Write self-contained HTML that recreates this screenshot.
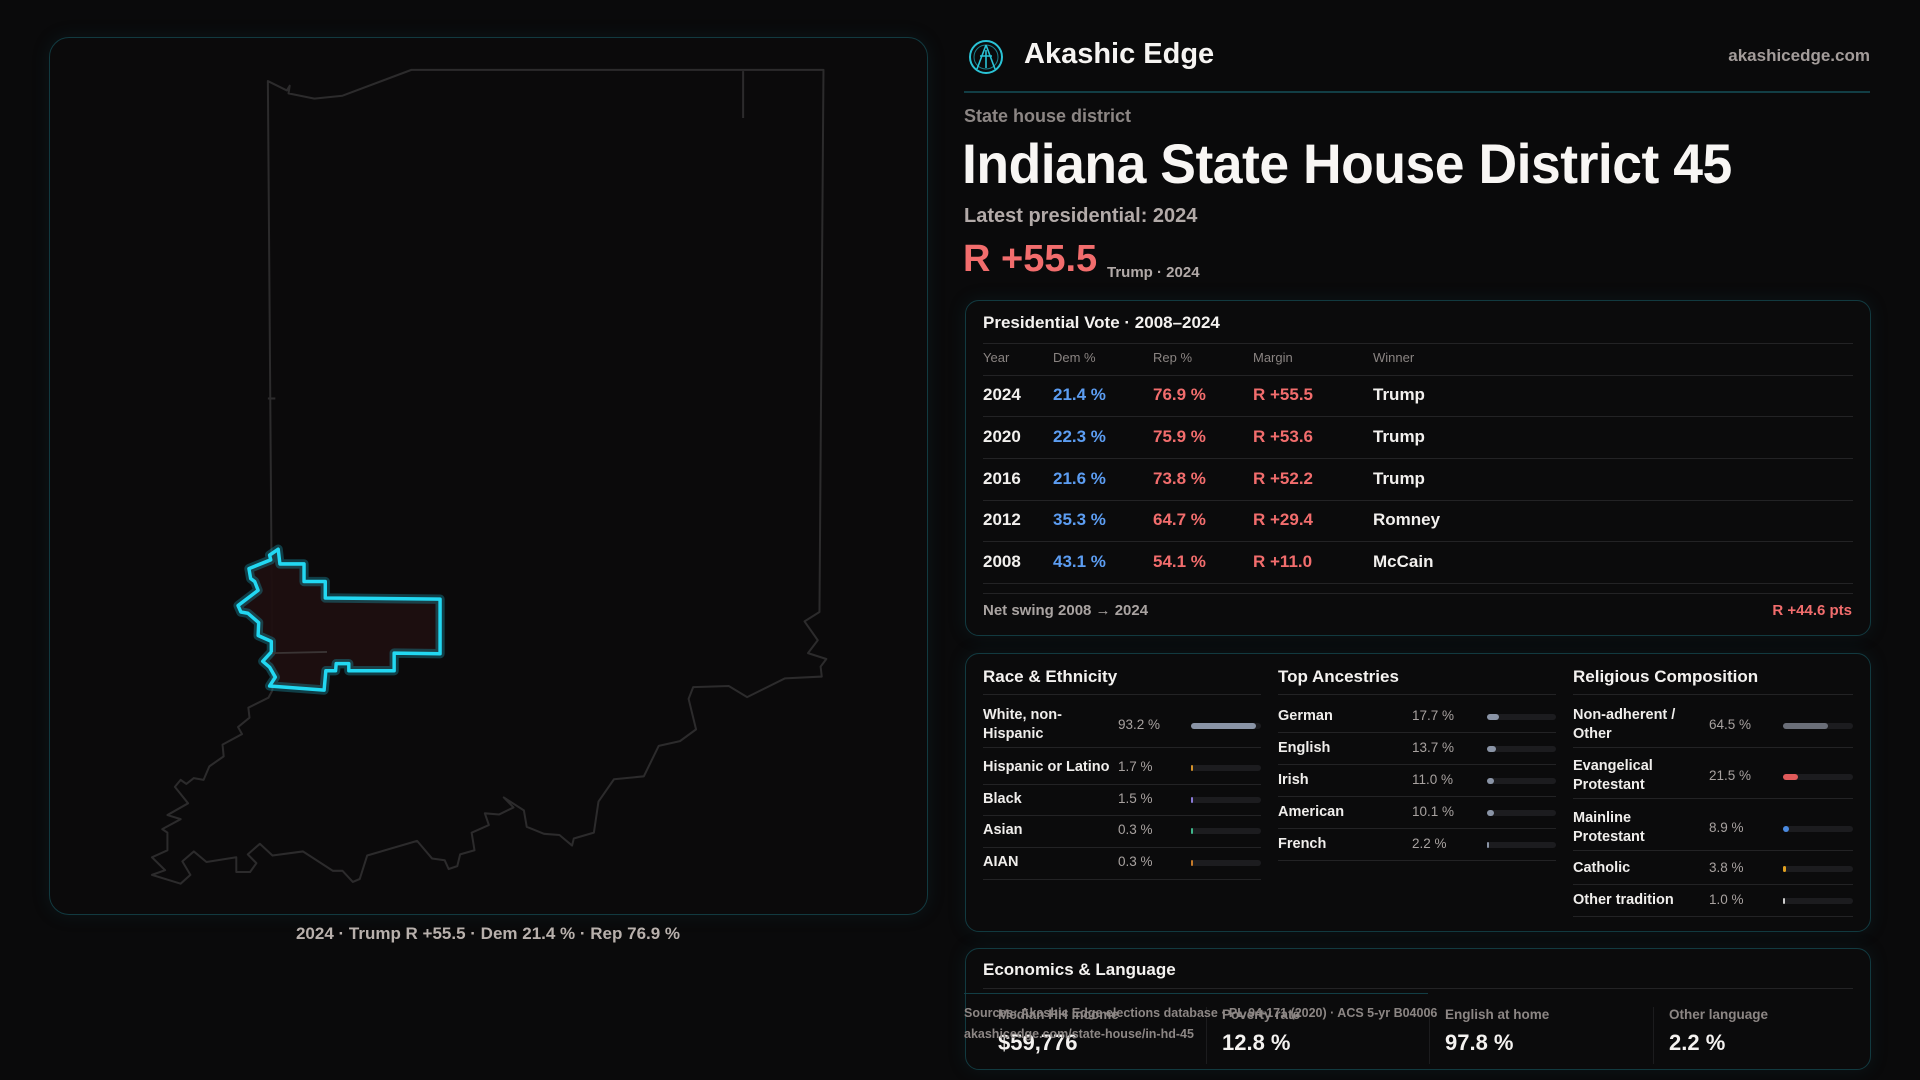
<!DOCTYPE html>
<html><head><meta charset="utf-8"><style>
*{margin:0;padding:0;box-sizing:border-box}
body{width:1920px;height:1080px;background:#0a0a0b;font-family:"Liberation Sans",sans-serif;color:#f2f0ee;position:relative;overflow:hidden}
.a{position:absolute;white-space:nowrap}
.panel{position:absolute;border:1.5px solid #123a40;border-radius:14px;background:#0b0b0c;box-shadow:0 0 18px rgba(20,80,90,0.18)}
.hl{position:absolute;height:1px;background:#232325}
.t{font-size:17px;font-weight:700;color:#f4f2f0}
.hd{font-size:13px;color:#8a8482}
.r{font-size:17px;font-weight:700}
.blue{color:#5c9df2}.red{color:#f26d6d}
.lab{font-size:14.5px;font-weight:700;color:#f0eeec;line-height:19px}
.val{font-size:13.5px;color:#a8a2a0}
.bar{position:absolute;height:6px;border-radius:3px;background:#1c1c1f}
.bar i{position:absolute;left:0;top:0;height:6px;border-radius:3px;display:block}
</style></head><body>

<div class="panel" style="left:49px;top:37px;width:879px;height:878px;background:#0b0a0b;border-radius:20px"></div>
<svg class="a" style="left:40px;top:30px" width="900" height="920" viewBox="0 0 1568 1568" preserveAspectRatio="none">
<g fill="none" stroke="#2c2b2c" stroke-width="3.5" stroke-linejoin="round">
<polyline points="405,1125 397,87 430,103 435,95 433,108 478,117 527,112 647,68 1365,68 1358,992 1332,1008 1355,1040 1338,1062 1370,1072 1360,1085 1362,1102 1298,1105 1232,1137 1200,1118 1138,1120 1130,1140 1143,1192 1115,1212 1078,1220 1052,1272 1000,1277 973,1315 965,1368 930,1378 927,1390 905,1372 878,1370 848,1358 843,1330 808,1308 825,1325 800,1337 775,1335 782,1355 752,1368 757,1398 732,1405 727,1425 712,1430 705,1415 683,1412 657,1382 570,1407 557,1447 545,1452 527,1433 510,1433 458,1400 405,1407 383,1387 362,1405 377,1420 366,1435 342,1435 342,1410 290,1418 268,1400 248,1417 262,1440 245,1455 195,1440 218,1432 195,1410 222,1398 222,1368 213,1362 245,1345 222,1338 258,1318 235,1290 245,1278 255,1285 268,1275 285,1278 295,1255 320,1238 318,1218 352,1200 345,1188 365,1172 363,1155 398,1138 405,1125"/>
<line x1="1225" y1="70" x2="1225" y2="150"/>
<line x1="397" y1="628" x2="410" y2="628"/>
</g>
<polygon points="400,1118 410,1103 400,1086 388,1076 403,1060 403,1042 380,1032 381,1010 362,994 350,992 345,981 380,955 374,940 367,935 364,918 402,903 400,895 415,885 418,910 460,910 460,940 497,940 497,968 697,970 697,1063 617,1062 617,1092 538,1092 538,1080 516,1080 515,1092 498,1092 495,1125" fill="#1e0f10" fill-opacity="0.95" stroke="#1aa0b8" stroke-opacity="0.35" stroke-width="16" stroke-linejoin="round"/>
<polygon points="400,1118 410,1103 400,1086 388,1076 403,1060 403,1042 380,1032 381,1010 362,994 350,992 345,981 380,955 374,940 367,935 364,918 402,903 400,895 415,885 418,910 460,910 460,940 497,940 497,968 697,970 697,1063 617,1062 617,1092 538,1092 538,1080 516,1080 515,1092 498,1092 495,1125" fill="none" stroke="#22d8f2" stroke-width="6" stroke-linejoin="round"/>
<line x1="405" y1="1062" x2="500" y2="1060" stroke="#3a3434" stroke-width="3"/>
</svg>
<div class="a" style="left:0;width:976px;top:924px;text-align:center;font-size:17px;font-weight:700;color:#b8b0ac">2024 · Trump R +55.5 · Dem 21.4 % · Rep 76.9 %</div>

<svg class="a" style="left:967px;top:38px" width="38" height="38" viewBox="0 0 38 38">
<circle cx="19" cy="19" r="16" fill="none" stroke="#2ac3d6" stroke-width="2"/>
<circle cx="19" cy="19" r="12" fill="none" stroke="#1b7f8c" stroke-width="1"/>
<path d="M19 7 L10 31 M19 7 L28 31 M13 18 L25 18 M19 12 L19 30" stroke="#2ac3d6" stroke-width="1.6" fill="none"/>
</svg>
<div class="a" style="left:1024px;top:38px;font-size:29px;font-weight:700;color:#f6f4f2">Akashic Edge</div>
<div class="a" style="right:50px;top:46px;font-size:17px;font-weight:700;color:#a39c9a">akashicedge.com</div>
<div class="a" style="left:964px;top:91px;width:906px;height:1.5px;background:#123e45"></div>
<div class="a" style="left:964px;top:106px;font-size:18px;font-weight:700;color:#8c8684">State house district</div>
<div class="a" style="left:962px;top:131px;font-size:56px;font-weight:700;color:#f8f6f4;transform:scaleX(0.955);transform-origin:left;letter-spacing:-0.5px">Indiana State House District 45</div>
<div class="a" style="left:964px;top:205px;font-size:20px;font-weight:700;color:#b2aaa8">Latest presidential: 2024</div>
<div class="a" style="left:963px;top:238px;font-size:38px;font-weight:700;color:#f26d6d">R +55.5</div>
<div class="a" style="left:1107px;top:264px;font-size:15px;font-weight:700;color:#b2aaa8">Trump · 2024</div>

<div class="panel" style="left:965px;top:300px;width:906px;height:336px"></div>
<div class="a t" style="left:983px;top:313px">Presidential Vote · 2008–2024</div>
<div class="hl" style="left:983px;top:343px;width:870px"></div>
<div class="a hd" style="left:983px;top:350px">Year</div>
<div class="a hd" style="left:1053px;top:350px">Dem %</div>
<div class="a hd" style="left:1153px;top:350px">Rep %</div>
<div class="a hd" style="left:1253px;top:350px">Margin</div>
<div class="a hd" style="left:1373px;top:350px">Winner</div>
<div class="hl" style="left:983px;top:375px;width:870px"></div>

<div class="a r" style="left:983px;top:385px">2024</div><div class="a r blue" style="left:1053px;top:385px">21.4 %</div><div class="a r red" style="left:1153px;top:385px">76.9 %</div><div class="a r red" style="left:1253px;top:385px">R +55.5</div><div class="a r" style="left:1373px;top:385px">Trump</div>
<div class="hl" style="left:983px;top:416px;width:870px"></div>
<div class="a r" style="left:983px;top:427px">2020</div><div class="a r blue" style="left:1053px;top:427px">22.3 %</div><div class="a r red" style="left:1153px;top:427px">75.9 %</div><div class="a r red" style="left:1253px;top:427px">R +53.6</div><div class="a r" style="left:1373px;top:427px">Trump</div>
<div class="hl" style="left:983px;top:458px;width:870px"></div>
<div class="a r" style="left:983px;top:469px">2016</div><div class="a r blue" style="left:1053px;top:469px">21.6 %</div><div class="a r red" style="left:1153px;top:469px">73.8 %</div><div class="a r red" style="left:1253px;top:469px">R +52.2</div><div class="a r" style="left:1373px;top:469px">Trump</div>
<div class="hl" style="left:983px;top:500px;width:870px"></div>
<div class="a r" style="left:983px;top:510px">2012</div><div class="a r blue" style="left:1053px;top:510px">35.3 %</div><div class="a r red" style="left:1153px;top:510px">64.7 %</div><div class="a r red" style="left:1253px;top:510px">R +29.4</div><div class="a r" style="left:1373px;top:510px">Romney</div>
<div class="hl" style="left:983px;top:541px;width:870px"></div>
<div class="a r" style="left:983px;top:552px">2008</div><div class="a r blue" style="left:1053px;top:552px">43.1 %</div><div class="a r red" style="left:1153px;top:552px">54.1 %</div><div class="a r red" style="left:1253px;top:552px">R +11.0</div><div class="a r" style="left:1373px;top:552px">McCain</div>
<div class="hl" style="left:983px;top:583px;width:870px"></div>
<div class="hl" style="left:983px;top:593px;width:870px"></div>
<div class="a" style="left:983px;top:602px;font-size:15px;font-weight:700;color:#aaa4a2">Net swing 2008 → 2024</div>
<div class="a" style="right:68px;top:602px;font-size:15px;font-weight:700;color:#f26d6d">R +44.6 pts</div>

<div class="panel" style="left:965px;top:653px;width:906px;height:279px"></div>
<div class="a t" style="left:983px;top:667px">Race &amp; Ethnicity</div>
<div class="a t" style="left:1278px;top:667px">Top Ancestries</div>
<div class="a t" style="left:1573px;top:667px">Religious Composition</div>
<div class="hl" style="left:983px;top:694px;width:278px"></div>
<div class="hl" style="left:1278px;top:694px;width:278px"></div>
<div class="hl" style="left:1573px;top:694px;width:280px"></div>

<div class="a lab" style="left:983px;top:706px">White, non-<br>Hispanic</div><div class="a val" style="left:1118px;top:717px">93.2 %</div><div class="bar" style="left:1191px;top:723px;width:70px"><i style="width:93%;background:#8a94a6"></i></div>
<div class="hl" style="left:983px;top:747px;width:278px"></div>
<div class="a lab" style="left:983px;top:758px">Hispanic or Latino</div><div class="a val" style="left:1118px;top:759px">1.7 %</div><div class="bar" style="left:1191px;top:765px;width:70px"><i style="width:2px;background:#d4922a"></i></div>
<div class="hl" style="left:983px;top:784px;width:278px"></div>
<div class="a lab" style="left:983px;top:790px">Black</div><div class="a val" style="left:1118px;top:791px">1.5 %</div><div class="bar" style="left:1191px;top:797px;width:70px"><i style="width:2px;background:#8a7ad8"></i></div>
<div class="hl" style="left:983px;top:815px;width:278px"></div>
<div class="a lab" style="left:983px;top:821px">Asian</div><div class="a val" style="left:1118px;top:822px">0.3 %</div><div class="bar" style="left:1191px;top:828px;width:70px"><i style="width:2px;background:#3fb58a"></i></div>
<div class="hl" style="left:983px;top:847px;width:278px"></div>
<div class="a lab" style="left:983px;top:853px">AIAN</div><div class="a val" style="left:1118px;top:854px">0.3 %</div><div class="bar" style="left:1191px;top:860px;width:70px"><i style="width:2px;background:#c47a2a"></i></div>
<div class="hl" style="left:983px;top:879px;width:278px"></div>

<div class="a lab" style="left:1278px;top:707px">German</div><div class="a val" style="left:1412px;top:708px">17.7 %</div><div class="bar" style="left:1487px;top:714px;width:69px"><i style="width:12px;background:#8a94a6"></i></div>
<div class="hl" style="left:1278px;top:732px;width:278px"></div>
<div class="a lab" style="left:1278px;top:739px">English</div><div class="a val" style="left:1412px;top:740px">13.7 %</div><div class="bar" style="left:1487px;top:746px;width:69px"><i style="width:9px;background:#8a94a6"></i></div>
<div class="hl" style="left:1278px;top:764px;width:278px"></div>
<div class="a lab" style="left:1278px;top:771px">Irish</div><div class="a val" style="left:1412px;top:772px">11.0 %</div><div class="bar" style="left:1487px;top:778px;width:69px"><i style="width:7px;background:#8a94a6"></i></div>
<div class="hl" style="left:1278px;top:796px;width:278px"></div>
<div class="a lab" style="left:1278px;top:803px">American</div><div class="a val" style="left:1412px;top:804px">10.1 %</div><div class="bar" style="left:1487px;top:810px;width:69px"><i style="width:7px;background:#8a94a6"></i></div>
<div class="hl" style="left:1278px;top:828px;width:278px"></div>
<div class="a lab" style="left:1278px;top:835px">French</div><div class="a val" style="left:1412px;top:836px">2.2 %</div><div class="bar" style="left:1487px;top:842px;width:69px"><i style="width:2px;background:#8a94a6"></i></div>
<div class="hl" style="left:1278px;top:860px;width:278px"></div>

<div class="a lab" style="left:1573px;top:706px">Non-adherent /<br>Other</div><div class="a val" style="left:1709px;top:717px">64.5 %</div><div class="bar" style="left:1783px;top:723px;width:70px"><i style="width:64.5%;background:#6a6e78"></i></div>
<div class="hl" style="left:1573px;top:747px;width:280px"></div>
<div class="a lab" style="left:1573px;top:757px">Evangelical<br>Protestant</div><div class="a val" style="left:1709px;top:768px">21.5 %</div><div class="bar" style="left:1783px;top:774px;width:70px"><i style="width:15px;background:#e05a5a"></i></div>
<div class="hl" style="left:1573px;top:798px;width:280px"></div>
<div class="a lab" style="left:1573px;top:809px">Mainline<br>Protestant</div><div class="a val" style="left:1709px;top:820px">8.9 %</div><div class="bar" style="left:1783px;top:826px;width:70px"><i style="width:6px;background:#4a8ae0"></i></div>
<div class="hl" style="left:1573px;top:850px;width:280px"></div>
<div class="a lab" style="left:1573px;top:859px">Catholic</div><div class="a val" style="left:1709px;top:860px">3.8 %</div><div class="bar" style="left:1783px;top:866px;width:70px"><i style="width:3px;background:#e0a020"></i></div>
<div class="hl" style="left:1573px;top:884px;width:280px"></div>
<div class="a lab" style="left:1573px;top:891px">Other tradition</div><div class="a val" style="left:1709px;top:892px">1.0 %</div><div class="bar" style="left:1783px;top:898px;width:70px"><i style="width:2px;background:#cccccc"></i></div>
<div class="hl" style="left:1573px;top:916px;width:280px"></div>

<div class="panel" style="left:965px;top:948px;width:906px;height:122px"></div>
<div class="a t" style="left:983px;top:960px">Economics &amp; Language</div>
<div class="hl" style="left:983px;top:988px;width:870px"></div>
<div class="a" style="left:1206px;top:1007px;width:1px;height:57px;background:#1c1c1e"></div>
<div class="a" style="left:1429px;top:1007px;width:1px;height:57px;background:#1c1c1e"></div>
<div class="a" style="left:1653px;top:1007px;width:1px;height:57px;background:#1c1c1e"></div>
<div class="a" style="left:998px;top:1007px;font-size:13.5px;font-weight:700;color:#8c8684">Median HH income</div>
<div class="a" style="left:1222px;top:1007px;font-size:13.5px;font-weight:700;color:#8c8684">Poverty rate</div>
<div class="a" style="left:1445px;top:1007px;font-size:13.5px;font-weight:700;color:#8c8684">English at home</div>
<div class="a" style="left:1669px;top:1007px;font-size:13.5px;font-weight:700;color:#8c8684">Other language</div>
<div class="a" style="left:998px;top:1030px;font-size:22px;font-weight:700;color:#f4f2f0">$59,776</div>
<div class="a" style="left:1222px;top:1030px;font-size:22px;font-weight:700;color:#f4f2f0">12.8 %</div>
<div class="a" style="left:1445px;top:1030px;font-size:22px;font-weight:700;color:#f4f2f0">97.8 %</div>
<div class="a" style="left:1669px;top:1030px;font-size:22px;font-weight:700;color:#f4f2f0">2.2 %</div>
<div class="a" style="left:964px;top:993px;width:464px;height:1px;background:#123e45"></div>
<div class="a" style="left:964px;top:1006px;font-size:12.5px;font-weight:700;color:#8c8684">Sources: Akashic Edge elections database · PL 94-171 (2020) · ACS 5-yr B04006</div>
<div class="a" style="left:964px;top:1027px;font-size:12.5px;font-weight:700;color:#8c8684">akashicedge.com/state-house/in-hd-45</div>
</body></html>
